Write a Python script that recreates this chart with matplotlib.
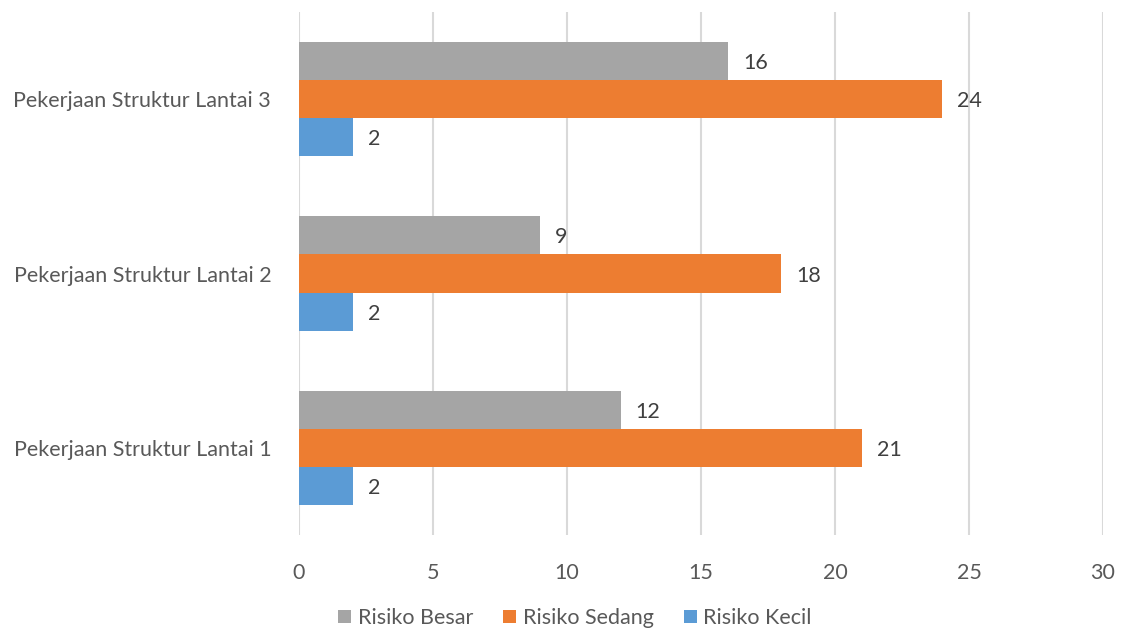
import matplotlib
matplotlib.use("Agg")
import matplotlib.pyplot as plt
import numpy as np

categories = ["Pekerjaan Struktur Lantai 1", "Pekerjaan Struktur Lantai 2", "Pekerjaan Struktur Lantai 3"]
risiko_besar = [12, 9, 16]
risiko_sedang = [21, 18, 24]
risiko_kecil = [2, 2, 2]
x_ticks = [0, 5, 10, 15, 20, 25, 30]

plt.rcParams['font.family'] = ['Lato', 'DejaVu Sans']
txt = '#595959'

fig = plt.figure(figsize=(11.23, 6.31), dpi=100)
ax = fig.add_axes([299/1123, 1-535/631, (1103-299)/1123, 523/631])

y = np.arange(len(categories))
h = 0.218
series = [
    ("Risiko Besar", risiko_besar, '#A5A5A5', h),
    ("Risiko Sedang", risiko_sedang, '#ED7D31', 0),
    ("Risiko Kecil", risiko_kecil, '#5B9BD5', -h),
]
for name, vals, col, off in series:
    bars = ax.barh(y + off, vals, height=h, color=col, label=name, zorder=3)
    for b, v in zip(bars, vals):
        ax.annotate(str(v), (b.get_width(), b.get_y() + b.get_height()/2),
                    xytext=(15, -2), textcoords='offset pixels',
                    ha='left', va='center', fontsize=15.5, color='#404040')

ax.set_xlim(0, 30)
ax.set_ylim(-0.5, 2.5)
ax.set_xticks(x_ticks)
ax.set_yticks(y)
ax.set_yticklabels(categories)
ax.grid(axis='x', color='#D9D9D9', linewidth=1.5, zorder=0)
for s in ax.spines.values():
    s.set_visible(False)
ax.tick_params(axis='both', length=0, labelsize=15.5, labelcolor=txt)
ax.tick_params(axis='x', pad=20)
ax.tick_params(axis='y', pad=20)

handles, labels = ax.get_legend_handles_labels()
fig.legend(handles, labels, loc='center', bbox_to_anchor=(575/1123, 1-618/631), ncol=3,
           frameon=False, fontsize=15.5, labelcolor=txt, handlelength=0.6, handleheight=0.6,
           handletextpad=0.3, columnspacing=1.4)

fig.savefig("out.png", dpi=100)
